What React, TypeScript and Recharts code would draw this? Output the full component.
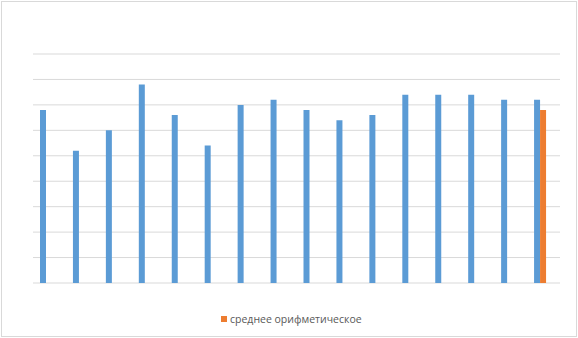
import React from "react";
import { BarChart, Bar, XAxis, YAxis, CartesianGrid } from "recharts";

// Sixteen measurements, plus the arithmetic mean shown next to the last one
const categories = ["1", "2", "3", "4", "5", "6", "7", "8", "9", "10", "11", "12", "13", "14", "15", "16"];
const values = [6.8, 5.2, 6.0, 7.8, 6.6, 5.4, 7.0, 7.2, 6.8, 6.4, 6.6, 7.4, 7.4, 7.4, 7.2, 7.2];
const meanValues = [null, null, null, null, null, null, null, null, null, null, null, null, null, null, null, 6.8];
// third series has no values but still reserves its slot in each group
const spareValues = categories.map(() => null);
const yTicks = [0, 1, 2, 3, 4, 5, 6, 7, 8, 9];
const meanLabel = "среднее орифметическое";

const data = categories.map((c, i) => ({
  name: c,
  value: values[i],
  mean: meanValues[i],
  spare: spareValues[i],
}));

function MeanLegend() {
  return (
    <div
      style={{
        position: "absolute",
        left: 219,
        top: 310,
        display: "flex",
        alignItems: "center",
        fontFamily: "'Open Sans', sans-serif",
        fontSize: 10.5,
        color: "#595959",
        whiteSpace: "nowrap",
      }}
    >
      <span
        style={{
          display: "inline-block",
          width: 6,
          height: 6,
          background: "#ED7D31",
          marginRight: 3,
        }}
      />
      {meanLabel}
    </div>
  );
}

export default function App() {
  return (
    <div
      style={{
        position: "absolute",
        left: 1,
        top: 1,
        width: 574,
        height: 334,
        border: "1px solid #d9d9d9",
        background: "#fff",
      }}
    >
      <BarChart
        width={574}
        height={334}
        data={data}
        margin={{ top: 52, right: 16, bottom: 53, left: 31 }}
        barSize={6}
        barGap={0}
      >
        <CartesianGrid stroke="#d9d9d9" vertical={false} />
        <XAxis dataKey="name" hide />
        <YAxis domain={[0, 9]} ticks={yTicks} hide />
        <Bar dataKey="value" fill="#5B9BD5" isAnimationActive={false} />
        <Bar dataKey="mean" fill="#ED7D31" isAnimationActive={false} />
        <Bar dataKey="spare" fill="#A5A5A5" isAnimationActive={false} />
      </BarChart>
      <MeanLegend />
    </div>
  );
}
